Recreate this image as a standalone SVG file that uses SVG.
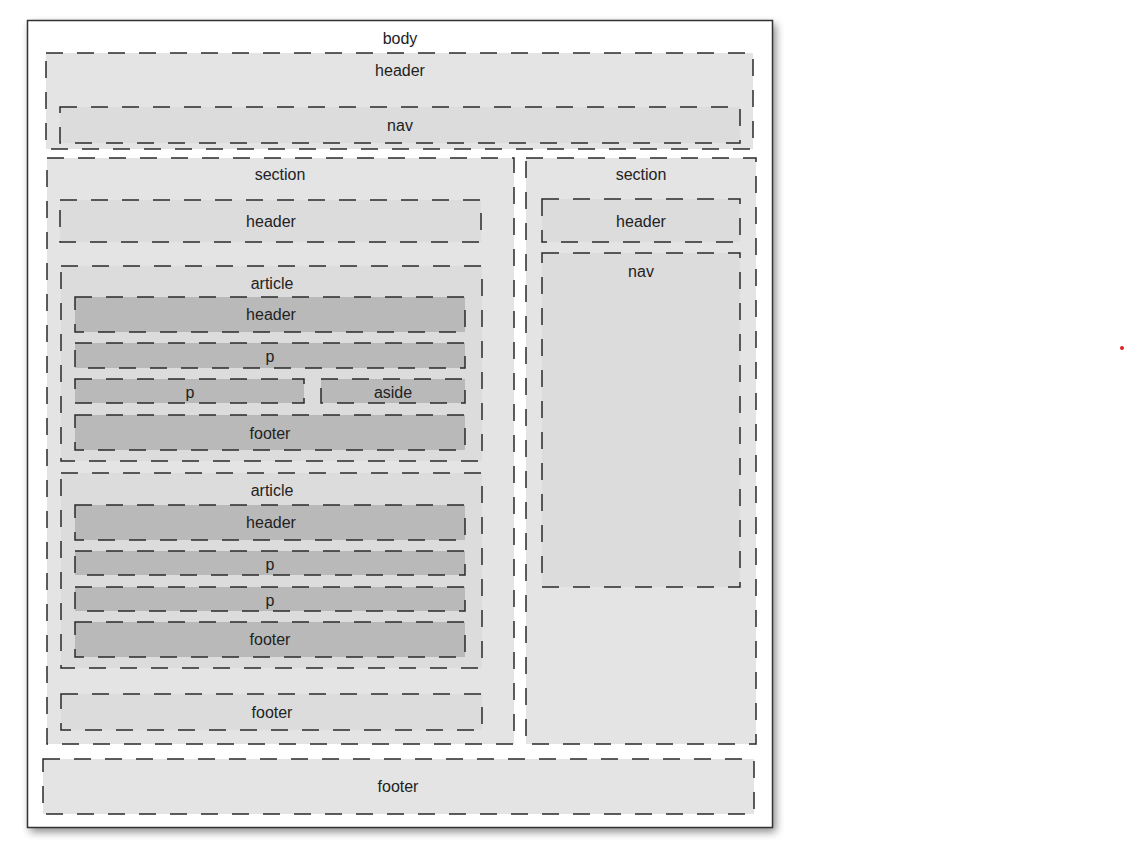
<svg xmlns="http://www.w3.org/2000/svg" width="1126" height="857" viewBox="0 0 1126 857">
<defs>
<filter id="shadow" x="-10%" y="-10%" width="120%" height="120%">
<feGaussianBlur stdDeviation="4"/>
</filter>
</defs>
<style>
.box{stroke:#2a2a2a;stroke-width:1.5;stroke-dasharray:17 14;}
.l1{fill:#e4e4e4;}
.l2{fill:#dcdcdc;}
.l3{fill:#b9b9b9;}
text{font-family:"Liberation Sans",Arial,sans-serif;font-size:16px;fill:#222;text-anchor:middle;}
</style>
<rect width="1126" height="857" fill="#ffffff"/>
<g id="body">
<rect x="30" y="24" width="746" height="808" fill="#000" opacity="0.45" filter="url(#shadow)"/>
<rect x="27.5" y="20.5" width="745" height="807" fill="#ffffff" stroke="#333" stroke-width="1.5"/>
<text x="400" y="44">body</text>
</g>
<g id="header">
<rect class="box l1" x="46" y="53" width="707" height="96"/>
<text x="400" y="76">header</text>
</g>
<g id="header-nav">
<rect class="box l2" x="60" y="107" width="680" height="36"/>
<text x="400" y="131">nav</text>
</g>
<g id="section-left">
<rect class="box l1" x="47" y="158" width="467" height="586"/>
<text x="280" y="180">section</text>
</g>
<g id="section-left-header">
<rect class="box l2" x="60" y="200" width="421" height="42"/>
<text x="271" y="227">header</text>
</g>
<g id="article-1">
<rect class="box l2" x="61" y="266" width="421" height="195"/>
<text x="272" y="289">article</text>
</g>
<g id="article-1-header">
<rect class="box l3" x="75" y="297" width="390" height="35"/>
<text x="271" y="320">header</text>
</g>
<g id="article-1-p1">
<rect class="box l3" x="75" y="343" width="390" height="25"/>
<text x="270" y="362">p</text>
</g>
<g id="article-1-p2">
<rect class="box l3" x="75" y="379" width="229" height="24"/>
<text x="190" y="398">p</text>
</g>
<g id="article-1-aside">
<rect class="box l3" x="321" y="379" width="144" height="24"/>
<text x="393" y="398">aside</text>
</g>
<g id="article-1-footer">
<rect class="box l3" x="75" y="415" width="390" height="35"/>
<text x="270" y="439">footer</text>
</g>
<g id="article-2">
<rect class="box l2" x="61" y="473" width="421" height="195"/>
<text x="272" y="496">article</text>
</g>
<g id="article-2-header">
<rect class="box l3" x="75" y="505" width="390" height="35"/>
<text x="271" y="528">header</text>
</g>
<g id="article-2-p1">
<rect class="box l3" x="75" y="551" width="390" height="24"/>
<text x="270" y="570">p</text>
</g>
<g id="article-2-p2">
<rect class="box l3" x="75" y="587" width="390" height="24"/>
<text x="270" y="606">p</text>
</g>
<g id="article-2-footer">
<rect class="box l3" x="75" y="622" width="390" height="35"/>
<text x="270" y="645">footer</text>
</g>
<g id="section-left-footer">
<rect class="box l2" x="61" y="694" width="421" height="36"/>
<text x="272" y="718">footer</text>
</g>
<g id="section-right">
<rect class="box l1" x="526" y="158" width="230" height="586"/>
<text x="641" y="180">section</text>
</g>
<g id="section-right-header">
<rect class="box l2" x="542" y="199" width="198" height="43"/>
<text x="641" y="227">header</text>
</g>
<g id="section-right-nav">
<rect class="box l2" x="542" y="253" width="198" height="334"/>
<text x="641" y="277">nav</text>
</g>
<g id="footer">
<rect class="box l1" x="43" y="759" width="711" height="55"/>
<text x="398" y="792">footer</text>
</g>
<g id="connectors"></g>
<circle cx="1122" cy="348" r="2" fill="#e02020"/>
</svg>
